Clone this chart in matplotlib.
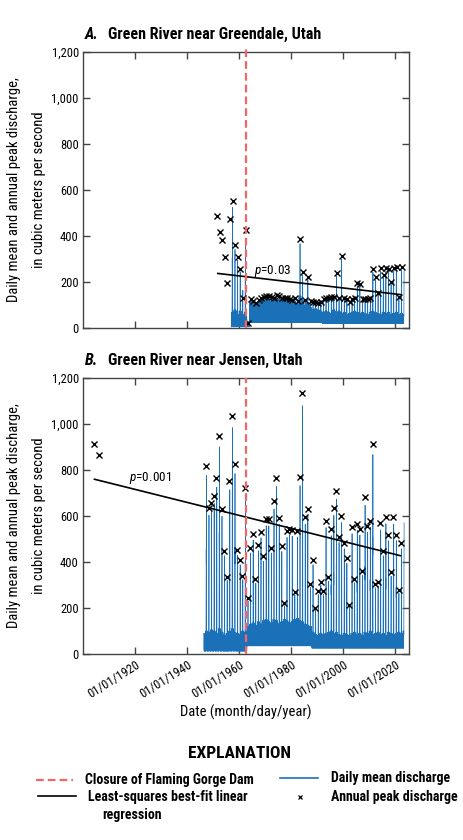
import numpy as np
import matplotlib
matplotlib.use("Agg")
import matplotlib.pyplot as plt
import matplotlib.dates as mdates
from matplotlib import font_manager
from matplotlib.ticker import FixedLocator, FuncFormatter
from datetime import datetime

# ---- fonts: prefer a condensed sans ----
fonts = font_manager.fontManager.ttflist
names = {f.name for f in fonts}
stretch = "normal"
if "Liberation Sans Narrow" in names:
    narrow = "Liberation Sans Narrow"
elif "Roboto Condensed" in names:
    narrow = "Roboto Condensed"
elif any(f.name == "DejaVu Sans" and f.stretch == "condensed" for f in fonts):
    narrow = "DejaVu Sans"
    stretch = "condensed"
else:
    narrow = "Liberation Sans"
plt.rcParams["font.family"] = [narrow, "DejaVu Sans"]
plt.rcParams["font.stretch"] = stretch
plt.rcParams["mathtext.fontset"] = "custom"
plt.rcParams["mathtext.rm"] = narrow
plt.rcParams["mathtext.it"] = narrow + ":italic"
shrink = 1.0 if stretch == "condensed" or narrow != "Liberation Sans" else 0.9

# ---- data: annual peak discharge (m3/s) ----
peak_years_a = list(range(1951, 2023))
peak_values_a = [
    487, 416, 383, 308, 198, 475, 553, 360, 311, 257,
    130, 426, 22, 127, 118, 110, 122, 130, 135, 138,
    140, 136, 133, 145, 138, 133, 133, 130, 128, 123,
    130, 120, 386, 243, 123, 224, 118, 115, 116, 108,
    115, 125, 132, 133, 135, 135, 241, 130, 315, 130,
    125, 116, 125, 130, 195, 191, 125, 125, 127, 130,
    257, 221, 152, 260, 231, 260, 258, 201, 262, 265,
    137, 267,
]

peak_years_b = [1904, 1906] + list(range(1947, 2023))
peak_values_b = [
    910, 864,
    816, 635, 657, 688, 763, 947, 630, 449, 336, 751,
    1035, 825, 452, 408, 340, 719, 243, 462, 521, 324,
    472, 531, 424, 586, 586, 462, 663, 766, 592, 469,
    221, 533, 543, 539, 271, 535, 770, 1135, 593, 630,
    304, 408, 200, 272, 314, 272, 578, 333, 541, 634,
    708, 510, 601, 481, 415, 213, 550, 326, 565, 544,
    360, 680, 556, 579, 912, 303, 311, 567, 449, 596,
    518, 356, 594, 518, 278, 481,
]

# ---- data: daily mean discharge, summarised per year ----
daily_years_a = list(range(1957, 2024))
daily_peak_a = {1960: 245, 1961: 165, 1962: 365, 2023: 250}
band_high_a = ([70, 80, 60, 75, 60, 70] + [30] +
               [115, 120, 105, 110, 125, 120, 130, 125, 115, 120,
                130, 125, 120, 115, 125, 120, 110, 115, 105] +
               [140, 120, 100, 110, 90, 80, 85, 80, 75] +
               [70, 75, 70, 65, 80, 70, 75, 65, 70, 60,
                65, 70, 75, 70, 65, 70, 65, 60, 70] +
               [75, 70, 65, 60, 70, 65, 70, 60, 65, 70, 60, 65, 60])
band_low_a = [6] * 6 + [6] + [25] * 19 + [25] * 9 + [20] * 32
daily_span_a = (1956.9, 2023.42)

daily_years_b = list(range(1946, 2024))
daily_peak_b = {1946: 0, 2023: 570}
band_high_b = ([90, 100, 95, 105, 100, 90, 110, 95, 80, 90, 100, 110, 95, 90, 85, 100, 95] +
               [120, 130, 135, 125, 140, 130, 145, 150, 140, 135, 150, 145, 130,
                140, 150, 145, 135, 140, 150, 155, 145, 140, 130, 125, 120] +
               [95, 85, 80, 90, 85, 90, 95, 100, 90, 95, 85, 80, 90, 85, 80, 90, 95, 85,
                90, 80, 95, 90, 100, 85, 90, 95, 85, 90, 80, 95, 90, 85, 90, 95, 90, 100])
band_low_b = [12] * 17 + [35] * 25 + [25] * 36
daily_span_b = (1946.5, 2023.42)
daily_to_peak = 0.95
# within-year position of each weekly value between the low and high level
weekly_mix = [0.0, 1.0, 0.3, 0.8, 0.1, 0.6, 0.2, 0.9, 0.45, 0.7, 0.05, 0.5, 0.25]

# ---- regression lines (endpoints) ----
trend_years_a = [1951.8, 2022.2]
trend_values_a = [238, 146]
trend_years_b = [1904.4, 2022.0]
trend_values_b = [759, 427]

dam_closure = datetime(1962, 11, 1)

BLUE = "#1a71b8"
RED = "#f2666b"

base = mdates.date2num(datetime(1900, 1, 1))


def yr2num(y):
    return base + (np.asarray(y, dtype=float) - 1900.0) * 365.2425


def daily_trace(years, peak_years, peak_values, overrides, lows, highs, span):
    peaks = dict(zip(peak_years, peak_values))
    steps = 52
    mix = np.resize(weekly_mix, steps)
    xs, vs = [], []
    for yr, lo, hi in zip(years, lows, highs):
        pk = overrides.get(yr, peaks.get(yr, 0) * daily_to_peak)
        t = np.arange(steps) / steps
        band = lo + mix * (hi - lo)
        main = pk * np.exp(-0.5 * ((t - 0.42) / 0.03) ** 2)
        shoulder = 0.6 * pk * np.exp(-0.5 * ((t - 0.36) / 0.025) ** 2)
        v = np.maximum(band, np.maximum(main, shoulder))
        t = np.append(t, 0.42)
        v = np.append(v, max(pk, lo))
        order = np.argsort(t)
        xs.append(yr + t[order])
        vs.append(v[order])
    x = np.concatenate(xs)
    v = np.concatenate(vs)
    keep = (x >= span[0]) & (x <= span[1])
    return x[keep], v[keep]


fig = plt.figure(figsize=(4.64, 8.4), dpi=100)
ax_a = fig.add_axes([83 / 464, 1 - 328.3 / 840, 326 / 464, 276.6 / 840])
ax_b = fig.add_axes([83 / 464, 1 - 654 / 840, 326 / 464, 276.3 / 840])

panels = [
    (ax_a, "A.", "Green River near Greendale, Utah",
     daily_years_a, peak_years_a, peak_values_a, daily_peak_a, band_low_a, band_high_a,
     daily_span_a, trend_years_a, trend_values_a, (1965.7, 250), "$p$=0.03", 0.5, 1.02),
    (ax_b, "B.", "Green River near Jensen, Utah",
     daily_years_b, peak_years_b, peak_values_b, daily_peak_b, band_low_b, band_high_b,
     daily_span_b, trend_years_b, trend_values_b, (1917.7, 764), "$p$=0.001", 0.3, 1.0),
]

for (ax, letter, title, dyears, pyears, pvalues, over, lows, highs, span,
     tyears, tvalues, ppos, ptext, poff, dam_top) in panels:
    dx, dv = daily_trace(dyears, pyears, pvalues, over, lows, highs, span)
    ax.plot(yr2num(dx), dv, color=BLUE, lw=0.5, zorder=2)
    ax.plot(yr2num(np.array(pyears) + poff), pvalues, linestyle="none", marker="x",
            color="black", markersize=4, markeredgewidth=1.0, zorder=4)
    ax.plot(yr2num(tyears), tvalues, color="black", lw=1.2, zorder=3)
    ax.axvline(mdates.date2num(dam_closure), ymin=0, ymax=dam_top, color=RED, lw=1.6,
               dashes=(3.5, 1.8), zorder=5, clip_on=False)
    ax.text(yr2num(ppos[0]), ppos[1], ptext, fontsize=9.5 * shrink, ha="left",
            va="center", zorder=6)

    ax.set_xlim(yr2num(1900.0), yr2num(2025.3))
    ax.set_ylim(0, 1200)
    ax.set_yticks(np.arange(0, 1201, 200))
    ax.yaxis.set_major_formatter(FuncFormatter(lambda v, _: f"{int(v):,}"))
    ax.xaxis.set_major_locator(FixedLocator(
        [mdates.date2num(datetime(y, 1, 1)) for y in range(1920, 2021, 20)]))
    ax.xaxis.set_major_formatter(mdates.DateFormatter("%m/%d/%Y"))
    ax.tick_params(direction="in", top=True, right=True, length=5, width=1,
                   labelsize=9 * shrink, color="#444444", pad=3)
    for s in ax.spines.values():
        s.set_color("#444444")
        s.set_linewidth(1.0)

    ax.set_ylabel("Daily mean and annual peak discharge,\nin cubic meters per second",
                  fontsize=10.5 * shrink, linespacing=2.0)
    ax.yaxis.set_label_coords(-0.112, 0.5)

    ax.text(0.006, 1.0 + 17 / 276.5, letter, transform=ax.transAxes, fontsize=11.5 * shrink,
            fontweight="bold", fontstyle="italic", ha="left", va="center")
    ax.text(0.077, 1.0 + 17 / 276.5, title, transform=ax.transAxes, fontsize=11.5 * shrink,
            fontweight="bold", ha="left", va="center")

ax_a.tick_params(labelbottom=False)
for lab in ax_b.get_xticklabels():
    lab.set_rotation(32)
    lab.set_ha("right")
    lab.set_rotation_mode("anchor")

fig.text(246 / 464, 1 - 712 / 840, "Date (month/day/year)", fontsize=10.5 * shrink,
         ha="center", va="center")

# ---- explanation ----
leg = fig.add_axes([0, 0, 1, 1])
leg.set_xlim(0, 464)
leg.set_ylim(840, 0)
leg.axis("off")
fs = 10 * shrink
leg.text(240, 753, "EXPLANATION", fontsize=12.5 * shrink, fontweight="bold",
         ha="center", va="center")
leg.plot([36, 73], [780, 780], color=RED, lw=1.6, dashes=(3.5, 1.8))
leg.text(85, 780, "Closure of Flaming Gorge Dam", fontsize=fs, fontweight="bold", va="center")
leg.plot([38, 76], [796, 796], color="black", lw=1.2)
leg.text(88, 797, "Least-squares best-fit linear", fontsize=fs, fontweight="bold", va="center")
leg.text(102, 815, "regression", fontsize=fs, fontweight="bold", va="center")
leg.plot([280, 318], [778, 778], color=BLUE, lw=1.2)
leg.text(331, 778, "Daily mean discharge", fontsize=fs, fontweight="bold", va="center")
leg.plot([300], [797], linestyle="none", marker="x", color="black", markersize=3.5,
         markeredgewidth=0.9)
leg.text(331, 797, "Annual peak discharge", fontsize=fs, fontweight="bold", va="center")

fig.savefig("out.png", dpi=100)
